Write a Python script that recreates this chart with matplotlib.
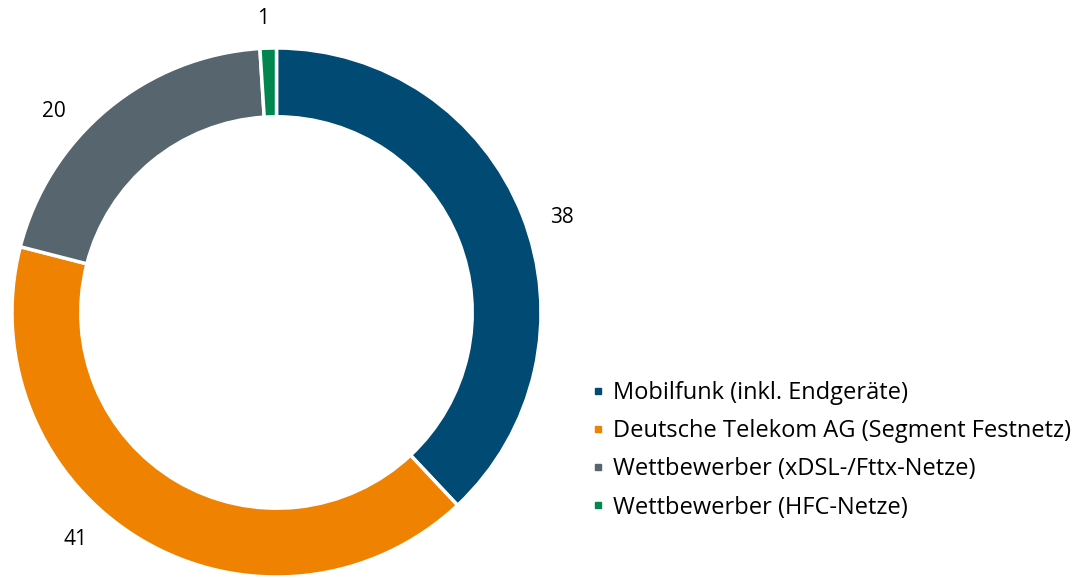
import matplotlib

matplotlib.use("Agg")
import matplotlib.pyplot as plt
from matplotlib.lines import Line2D

labels = [
    "Mobilfunk (inkl. Endgeräte)",
    "Deutsche Telekom AG (Segment Festnetz)",
    "Wettbewerber (xDSL-/Fttx-Netze)",
    "Wettbewerber (HFC-Netze)",
]
values = [38, 41, 20, 1]
colors = ["#004a73", "#ef8200", "#56656e", "#00874f"]

# label anchor points (data units, radius = 1), placed like the original
label_pos = [(1.08, 0.36), (-0.76, -0.86), (-0.84, 0.76), (-0.05, 1.11)]

plt.rcParams["font.family"] = ["Open Sans", "DejaVu Sans"]

fig = plt.figure(figsize=(10.83, 5.78), dpi=100)
ax = fig.add_axes([12 / 1083, 1 / 578, 529 / 1083, 529 / 578])

wedges, _ = ax.pie(
    values,
    colors=colors,
    startangle=90,
    counterclock=False,
    radius=1.0,
    wedgeprops=dict(width=0.26, edgecolor="white", linewidth=2.5),
)
ax.set_xlim(-1, 1)
ax.set_ylim(-1, 1)
ax.set_aspect("equal")
ax.axis("off")

for v, (x, y) in zip(values, label_pos):
    ax.text(x, y, str(v), ha="center", va="center", fontsize=15,
            color="#000000", clip_on=False)

handles = [
    Line2D([], [], marker="s", linestyle="none", markersize=5,
           markerfacecolor=c, markeredgecolor=c)
    for c in colors
]
fig.legend(
    handles, labels,
    loc="upper left",
    bbox_to_anchor=(592 / 1083, 1 - 381 / 578),
    frameon=False,
    fontsize=17,
    handlelength=0.5,
    handletextpad=0.4,
    labelspacing=0.6,
    borderaxespad=0,
    borderpad=0,
    labelcolor="#000000",
)

fig.savefig("out.png", dpi=100)
